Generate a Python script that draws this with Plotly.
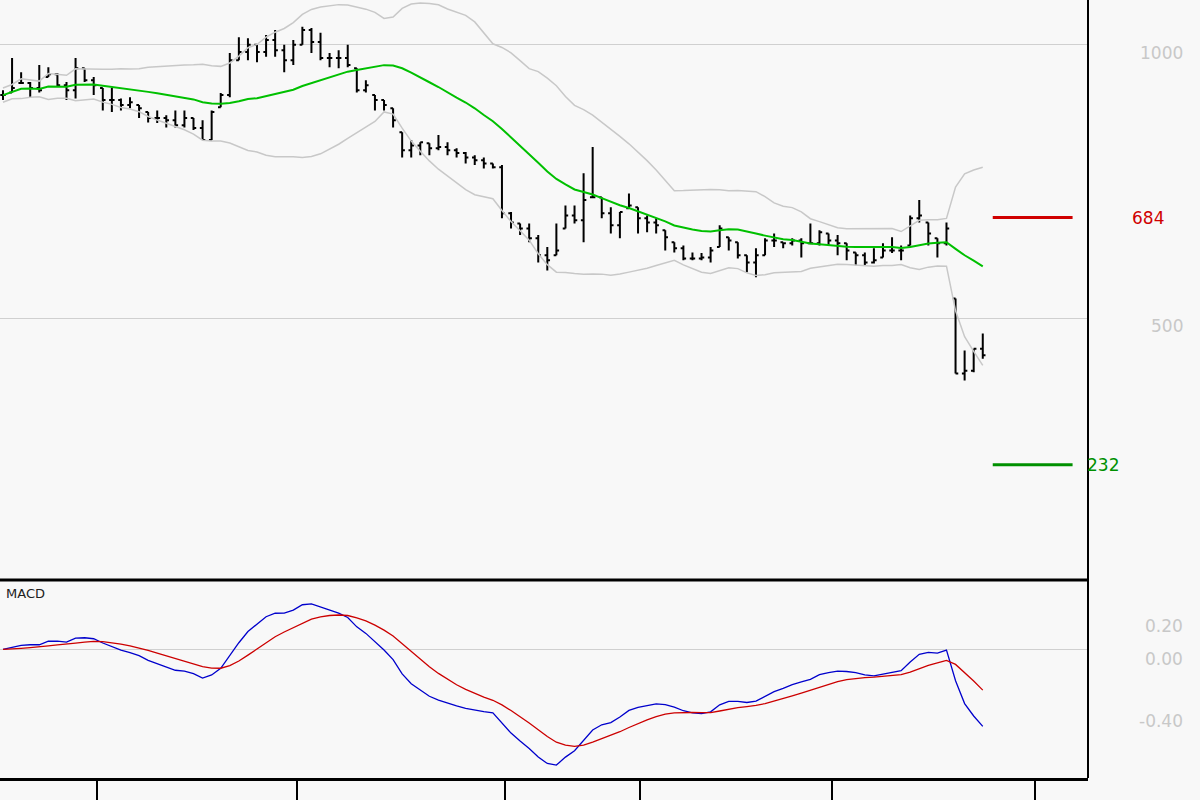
import plotly.graph_objects as go
from plotly.subplots import make_subplots
import pandas as pd

high = [917, 976, 950, 932, 963, 959, 948, 932, 976, 957, 941, 921, 921, 902, 904, 890, 877, 880, 871, 880,
        880, 866, 862, 880, 912, 985, 1014, 1012, 1000, 1018, 1027, 1000, 1009, 1033, 1031, 1022, 985, 990, 1000, 957,
        935, 908, 899, 884, 840, 826, 822, 820, 835, 822, 811, 804, 798, 794, 783, 780, 694, 673, 673, 652,
        630, 673, 706, 706, 765, 813, 721, 703, 694, 728, 703, 688, 683, 661, 639, 633, 620, 619, 630, 670,
        648, 639, 615, 628, 646, 655, 639, 646, 646, 673, 661, 655, 652, 637, 620, 620, 628, 637, 648, 633,
        688, 716, 675, 646, 675, 536, 441, 444, 472]
low = [899, 913, 930, 904, 913, 941, 923, 899, 902, 932, 908, 880, 877, 880, 884, 866, 858, 857, 849, 849,
       849, 844, 826, 826, 886, 904, 972, 972, 968, 978, 978, 950, 963, 1000, 985, 972, 959, 957, 959, 913,
       913, 880, 880, 849, 794, 794, 798, 798, 807, 798, 794, 783, 780, 774, 774, 683, 664, 652, 639, 602,
       587, 615, 664, 673, 639, 721, 683, 655, 646, 701, 655, 657, 655, 624, 620, 606, 606, 606, 602, 630,
       624, 609, 584, 575, 615, 630, 628, 633, 611, 637, 633, 633, 615, 606, 597, 597, 600, 611, 619, 606,
       633, 675, 633, 611, 633, 399, 386, 401, 426]
close = [908, 921, 930, 921, 917, 946, 926, 917, 957, 935, 926, 899, 899, 890, 895, 884, 866, 866, 862, 853,
         866, 848, 826, 877, 908, 972, 987, 1000, 987, 1009, 990, 972, 1000, 1027, 1005, 976, 976, 976, 963, 917,
         926, 899, 890, 862, 807, 816, 822, 811, 813, 807, 802, 794, 789, 783, 776, 692, 675, 664, 646, 615,
         606, 624, 688, 679, 716, 721, 692, 670, 694, 706, 683, 675, 670, 648, 628, 609, 609, 611, 624, 664,
         642, 615, 602, 615, 642, 642, 637, 642, 637, 637, 657, 642, 637, 624, 615, 602, 606, 624, 624, 624,
         683, 688, 655, 637, 664, 399, 404, 444, 432]

level_hi = 684
level_lo = 232
tick_idx = [10.4, 32.4, 55.3, 70.2, 91.4, 113.8]

x = list(range(len(close)))
s = pd.Series(close, dtype=float)
opn = [min(max(p, l), h) for p, l, h in zip([close[0]] + close[:-1], low, high)]

ma = s.rolling(20, min_periods=1).mean()
sd = s.rolling(20, min_periods=2).std(ddof=0).bfill()
upper = ma + 2 * sd
lower = ma - 2 * sd

macd = (s.ewm(span=12, adjust=False).mean() - s.ewm(span=26, adjust=False).mean()) / 100
signal = macd.ewm(span=9, adjust=False).mean()

fig = make_subplots(rows=2, cols=1, shared_xaxes=True, vertical_spacing=0.0064,
                    row_heights=[0.743, 0.25])

fig.add_trace(go.Scatter(x=x, y=upper, mode="lines", line=dict(color="#c8c8c8", width=1.5)), 1, 1)
fig.add_trace(go.Scatter(x=x, y=lower, mode="lines", line=dict(color="#c8c8c8", width=1.5)), 1, 1)
fig.add_trace(go.Scatter(x=x, y=ma, mode="lines", line=dict(color="#00c000", width=2)), 1, 1)
fig.add_trace(go.Ohlc(x=x, open=opn, high=high, low=low, close=close, tickwidth=0.3,
                      increasing=dict(line=dict(color="black", width=2)),
                      decreasing=dict(line=dict(color="black", width=2))), 1, 1)
fig.add_trace(go.Scatter(x=[109.1, 117.9], y=[level_hi, level_hi], mode="lines",
                         line=dict(color="#d00000", width=3)), 1, 1)
fig.add_trace(go.Scatter(x=[109.1, 117.9], y=[level_lo, level_lo], mode="lines",
                         line=dict(color="#009000", width=3)), 1, 1)

fig.add_trace(go.Scatter(x=x, y=macd, mode="lines", line=dict(color="#0000cc", width=1.3)), 2, 1)
fig.add_trace(go.Scatter(x=x, y=signal, mode="lines", line=dict(color="#cc0000", width=1.3)), 2, 1)

grey = "#c8c8c8"
fig.update_layout(
    width=1200, height=800, showlegend=False,
    paper_bgcolor="#f8f8f8", plot_bgcolor="#f8f8f8",
    margin=dict(l=0, r=112, t=0, b=22),
    font=dict(family="DejaVu Sans", size=14),
)
fig.update_xaxes(range=[-0.33, 119.6], showgrid=False, zeroline=False, showticklabels=False,
                 rangeslider=dict(visible=False))
fig.update_xaxes(tickvals=tick_idx, ticks="outside", ticklen=22, tickwidth=2, tickcolor="black",
                 showline=True, linewidth=3, linecolor="black", row=2, col=1)
fig.update_yaxes(range=[24, 1082], tickvals=[500, 1000], showticklabels=False,
                 gridcolor="#d0d0d0", zeroline=False, row=1, col=1)
fig.update_yaxes(range=[-0.83, 0.426], tickvals=[0], showticklabels=False,
                 gridcolor="#d0d0d0", zeroline=False, row=2, col=1)

# frame: right border and panel separator
fig.add_shape(type="line", xref="paper", yref="paper", x0=1, x1=1, y0=0, y1=1.03,
              line=dict(color="black", width=2))
fig.add_shape(type="line", xref="paper", yref="paper", x0=0, x1=1, y0=0.2545, y1=0.2545,
              line=dict(color="black", width=3))

for val, txt, col, xp, dy in [(1000, "1000", grey, 1.089, -8), (500, "500", grey, 1.089, -8),
                              (level_hi, str(level_hi), "#d00000", 1.072, 0),
                              (level_lo, str(level_lo), "#009000", 1.03, 0)]:
    fig.add_annotation(x=xp, y=val, xref="paper", yref="y", text=txt, showarrow=False, yshift=dy,
                       xanchor="right", font=dict(color=col, size=17))
for val, txt in [(0.15, "0.20"), (-0.06, "0.00"), (-0.46, "-0.40")]:
    fig.add_annotation(x=1.089, y=val, xref="paper", yref="y2", text=txt, showarrow=False,
                       xanchor="right", font=dict(color=grey, size=17))
fig.add_annotation(x=0.004, y=0.36, xref="paper", yref="y2", text="MACD", showarrow=False,
                   xanchor="left", font=dict(color="#202020", size=13))

fig.write_html("out.html", config=dict(displayModeBar=False),
               post_script="document.body.style.margin='0';document.body.style.background='#f8f8f8';")
